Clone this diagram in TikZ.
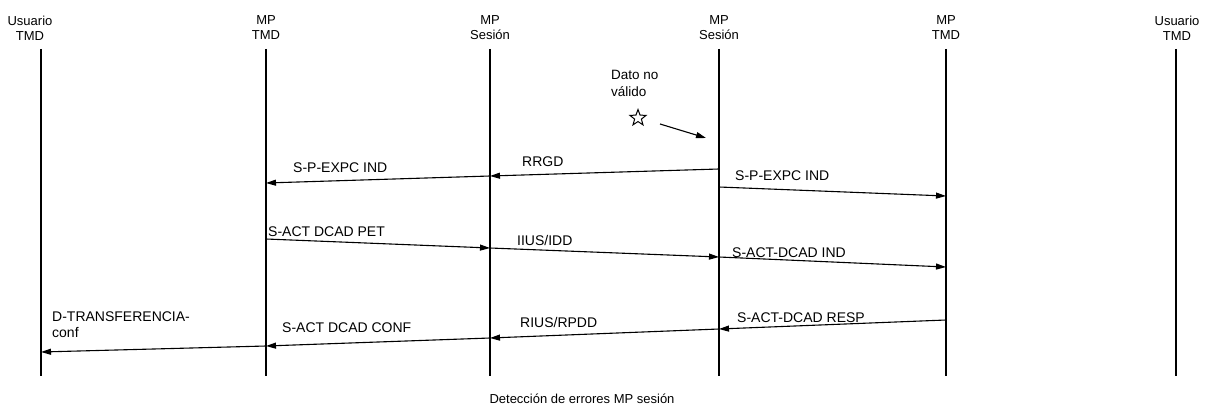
\documentclass[tikz,border=0pt]{standalone}
\usepackage{fontspec}
\setmainfont{Liberation Sans}
\usetikzlibrary{arrows.meta,shapes.geometric}
\begin{document}
\begin{tikzpicture}[x=1pt,y=-1pt,
  lifeline/.style={line width=1.1pt},
  msg/.style={line width=1.1pt,-{Triangle[length=10pt,width=6pt]}},
  hdr/.style={align=center,font=\fontsize{13}{15}\selectfont,inner sep=0pt},
  lbl/.style={anchor=west,font=\fontsize{14}{16}\selectfont,inner sep=0pt},
  captxt/.style={font=\fontsize{13}{15}\selectfont,inner sep=0pt}]
\useasboundingbox (0,0) rectangle (1209,412);
% lifelines
\foreach \i/\x in {1/41,2/266,3/490,4/719,5/946,6/1176}{
  \coordinate (t\i) at (\x,49);
  \coordinate (b\i) at (\x,376);
  \draw[lifeline] (t\i) -- (b\i);
}
% headers
\node[hdr] (h1) at (30,28) {Usuario\\TMD};
\node[hdr] (h2) at (266,28) {MP\\TMD};
\node[hdr] (h3) at (490,28) {MP\\Sesión};
\node[hdr] (h4) at (719,28) {MP\\Sesión};
\node[hdr] (h5) at (946,28) {MP\\TMD};
\node[hdr] (h6) at (1177,28) {Usuario\\TMD};
% error marker
\node[lbl,font=\fontsize{13.5}{17}\selectfont,align=left] (dato) at (611,83) {Dato no\\válido};
\node[star,star points=5,star point ratio=2.4,draw,line width=1pt,minimum size=17pt,inner sep=0pt] (star) at (638,118) {};
\coordinate (errtip) at (706,138);
\draw[line width=1.1pt,-{Triangle[length=10pt,width=6pt]}] (660,124) -- (errtip);
% message points
\coordinate (m4a) at (719,169);
\coordinate (m3a) at (490,176);
\coordinate (m2a) at (266,183);
\coordinate (m4b) at (719,187);
\coordinate (m5b) at (946,196);
\coordinate (m2c) at (266,239);
\coordinate (m3c) at (490,248);
\coordinate (m4c) at (719,257);
\coordinate (m5c) at (946,267);
\coordinate (m5d) at (946,320);
\coordinate (m4d) at (719,329);
\coordinate (m3d) at (490,338);
\coordinate (m2d) at (266,346);
\coordinate (m1d) at (41,352);
% messages
\draw[msg] (m4a) -- (m3a);
\draw[msg] (m3a) -- (m2a);
\draw[msg] (m4b) -- (m5b);
\draw[msg] (m2c) -- (m3c);
\draw[msg] (m3c) -- (m4c);
\draw[msg] (m4c) -- (m5c);
\draw[msg] (m5d) -- (m4d);
\draw[msg] (m4d) -- (m3d);
\draw[msg] (m3d) -- (m2d);
\draw[msg] (m2d) -- (m1d);
% labels
\node[lbl] (l1) at (522,162) {RRGD};
\node[lbl] (l2) at (293,168) {S-P-EXPC IND};
\node[lbl] (l3) at (735,176) {S-P-EXPC IND};
\node[lbl] (l4) at (268,232) {S-ACT DCAD PET};
\node[lbl] (l5) at (517,240) {IIUS/IDD};
\node[lbl] (l6) at (732,253) {S-ACT-DCAD IND};
\node[lbl] (l7) at (737,318) {S-ACT-DCAD RESP};
\node[lbl] (l8) at (520,322) {RIUS/RPDD};
\node[lbl] (l9) at (282,328) {S-ACT DCAD CONF};
\node[lbl,align=left] (l10) at (52,325) {D-TRANSFERENCIA-\\conf};
% caption
\node[captxt] (caption) at (582,399) {Detección de errores MP sesión};
\end{tikzpicture}
\end{document}
